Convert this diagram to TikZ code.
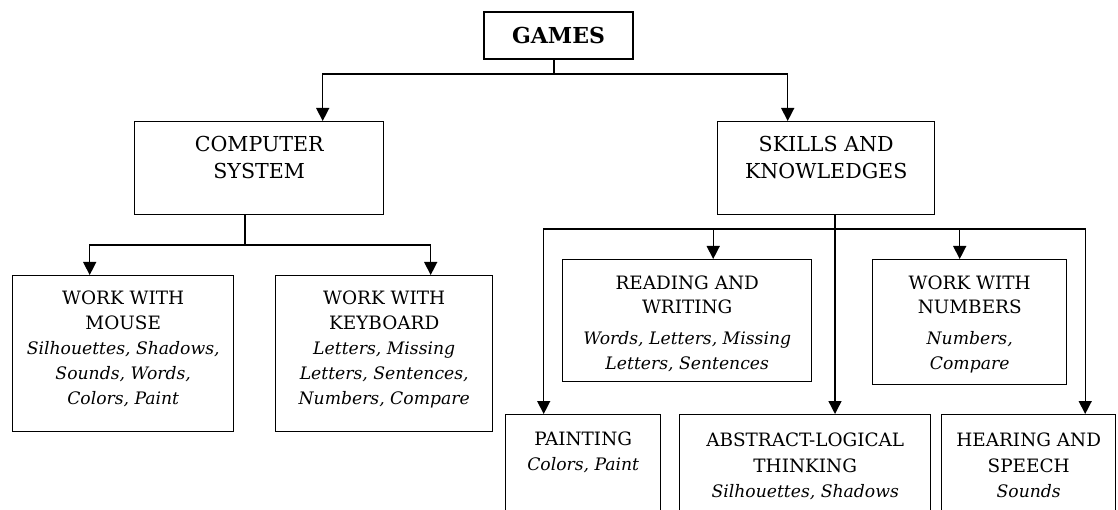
\documentclass[tikz,border=0pt]{standalone}
\usepackage{fontspec}
\setmainfont{DejaVu Serif}
\usetikzlibrary{arrows.meta}
\newcommand{\bt}[4]{\parbox[c][#2pt][t]{#1pt}{\centering\rule{0pt}{#3pt}#4}}
\newcommand{\hdA}[1]{\fontsize{20.6}{#1}\selectfont}
\newcommand{\hdB}[1]{\fontsize{18.4}{#1}\selectfont}
\newcommand{\ital}{\fontsize{17.2}{25}\selectfont\itshape}
\tikzset{
  box/.style={draw, line width=1.4pt, rectangle, inner sep=0pt, anchor=north west},
  link/.style={line width=1.4pt},
  arr/.style={line width=1.4pt, -{Triangle[width=13pt,length=13pt]}}
}
\begin{document}
\begin{tikzpicture}[x=1pt,y=1pt]
\useasboundingbox (0,0) rectangle (1118,-510);
\clip (0,0) rectangle (1118,-510);
% top
\node[draw, line width=1.4pt, inner sep=0pt, minimum width=149pt, minimum height=47pt,
      font=\fontsize{22}{26}\selectfont\bfseries] (games) at (558.5,-35.5) {GAMES};
% level 1
\node[box] (cs) at (134,-121) {\bt{249}{93}{29.4}{\hdA{27}COMPUTER\\SYSTEM}};
\node[box] (sk) at (717,-121) {\bt{217}{93}{29.4}{\hdA{27}SKILLS AND\\KNOWLEDGES}};
% level 2 left
\node[box] (mouse) at (12,-275) {\bt{221}{156}{28.6}{\hdB{25}WORK WITH\\MOUSE\\\ital Silhouettes, Shadows,\\Sounds, Words,\\Colors, Paint}};
\node[box] (keyb) at (275,-275) {\bt{217}{156}{28.6}{\hdB{25}WORK WITH\\KEYBOARD\\\ital Letters, Missing\\Letters, Sentences,\\Numbers, Compare}};
% level 2 right
\node[box] (read) at (562,-259) {\bt{249}{122}{30.1}{\hdB{24.2}READING AND\\WRITING\\[5.8pt]\ital Words, Letters, Missing\\Letters, Sentences}};
\node[box] (num) at (872,-259) {\bt{194}{125}{30.1}{\hdB{24.2}WORK WITH\\NUMBERS\\[5.8pt]\ital Numbers,\\Compare}};
% bottom row (cut at image edge)
\node[box] (paint) at (505,-414) {\bt{155}{130}{30.6}{\hdB{24}PAINTING\\\ital Colors, Paint}};
\node[box] (abs) at (679,-414) {\bt{251}{130}{31.6}{\hdB{26.5}ABSTRACT-LOGICAL\\THINKING\\\ital Silhouettes, Shadows}};
\node[box] (hear) at (941,-414) {\bt{174}{130}{31.6}{\hdB{26.5}HEARING AND\\SPEECH\\\ital Sounds}};
% connectors from GAMES
\coordinate (g1) at (554,-74);
\draw[link] (g1 |- games.south) -- (g1);
\draw[arr] (g1) -| ([xshift=63.5pt]cs.north);
\draw[arr] (g1) -| ([xshift=-38.5pt]sk.north);
% from COMPUTER SYSTEM
\coordinate (c1) at (245,-245);
\draw[link] (c1 |- cs.south) -- (c1);
\draw[arr] (c1) -| ([xshift=-33.5pt]mouse.north);
\draw[arr] (c1) -| ([xshift=46.5pt]keyb.north);
% from SKILLS AND KNOWLEDGES
\coordinate (s1) at (835,-229);
\draw[arr] (s1 |- sk.south) -- (s1 |- abs.north);
\draw[arr] (s1) -| ([xshift=-39.5pt]paint.north);
\draw[arr] (s1) -| ([xshift=26pt]read.north);
\draw[arr] (s1) -| ([xshift=-10pt]num.north);
\draw[arr] (s1) -| ([xshift=56.5pt]hear.north);
\end{tikzpicture}
\end{document}
